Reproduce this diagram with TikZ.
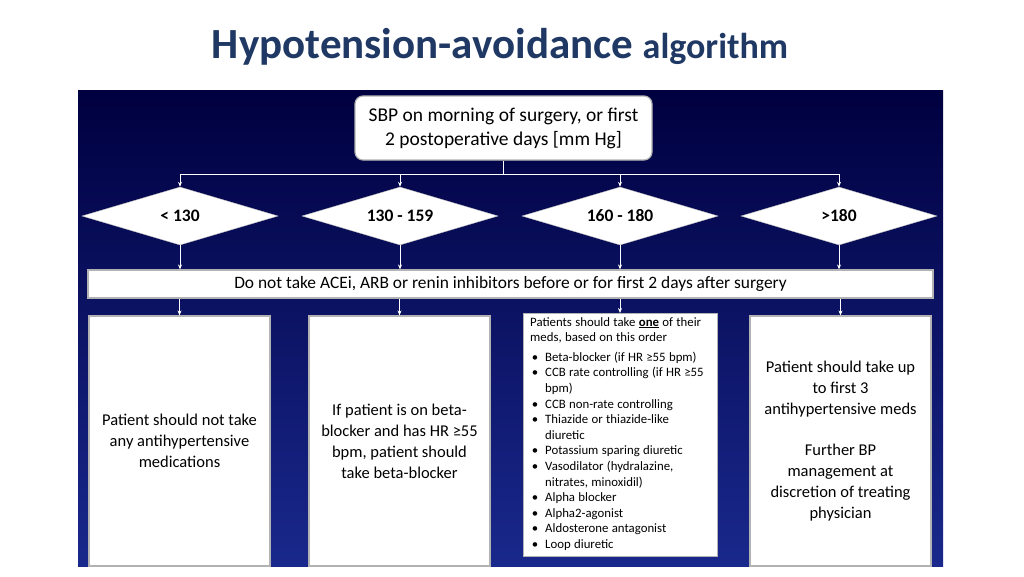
\documentclass[tikz,border=0pt]{standalone}
\usepackage{fontspec}
\setmainfont{Carlito}
\usetikzlibrary{shapes.geometric,arrows.meta}
\definecolor{ttl}{HTML}{1F3864}
\newcommand{\lf}{\fontsize{12.8}{15.6}\selectfont}
\begin{document}
\begin{tikzpicture}[x=1pt,y=-1pt,
  wbox/.style={draw=gray!60,line width=1.2pt,fill=white,align=center,text=black,inner sep=0pt},
  dia/.style={diamond,fill=white,draw=gray!50,aspect=3.4,minimum width=196pt,minimum height=58pt,inner sep=0pt,font=\fontsize{17.5}{20}\selectfont\bfseries},
  arr/.style={white,line width=0.7pt,-{Stealth[length=5pt,width=4pt]}}]
\useasboundingbox (0,0) rectangle (1024,576);
\fill[white] (0,0) rectangle (1024,576);
\node[text=ttl,font=\bfseries] (title) at (500,47) {\fontsize{43}{46}\selectfont Hypotension-avoidance \fontsize{36}{40}\selectfont algorithm};
\shade[top color=blue!25!black, bottom color={rgb,255:red,25;green,40;blue,140}] (78,90) rectangle (943,566);
\node[wbox,rounded corners=8pt,minimum width=297pt,minimum height=64pt,font=\fontsize{19.5}{24}\selectfont] (top) at (503.5,128) {SBP on morning of surgery, or first\\2 postoperative days [mm Hg]};
\node[dia] (d1) at (180,216) {< 130};
\node[dia] (d2) at (400,216) {130 - 159};
\node[dia] (d3) at (620,216) {160 - 180};
\node[dia] (d4) at (839,216) {>180};
\node[wbox,minimum width=845pt,minimum height=28pt,font=\fontsize{17.4}{19}\selectfont] (bar) at (510.5,284) {Do not take ACEi, ARB or renin inhibitors before or for first 2 days after surgery};
\node[wbox,minimum width=181pt,minimum height=250pt,font=\fontsize{16.5}{21}\selectfont] (b1) at (179.5,441) {Patient should not take\\any antihypertensive\\medications};
\node[wbox,minimum width=181pt,minimum height=250pt,font=\fontsize{16.5}{21}\selectfont] (b2) at (399.5,441) {If patient is on beta-\\blocker and has HR ≥55\\bpm, patient should\\take beta-blocker};
\node[wbox,minimum width=194pt,minimum height=243pt,anchor=north west] (b3) at (523,313) {};
\node[anchor=north west,text width=180pt,align=left,inner sep=0pt] (b3t) at (530,317) {\lf Patients should take \textbf{\underline{one}} of their meds, based on this order\\[-4pt]
\begin{list}{\textbullet}{\leftmargin=15pt\labelwidth=8pt\labelsep=7pt\itemsep=0pt\parsep=0pt\topsep=2pt\rightmargin=0pt}\raggedright\lf
\item Beta-blocker (if HR ≥55 bpm)
\item CCB rate controlling (if HR ≥55 bpm)
\item CCB non-rate controlling
\item Thiazide or thiazide-like diuretic
\item Potassium sparing diuretic
\item Vasodilator (hydralazine, nitrates, minoxidil)
\item Alpha blocker
\item Alpha2-agonist
\item Aldosterone antagonist
\item Loop diuretic
\end{list}};
\node[wbox,minimum width=181pt,minimum height=250pt,font=\fontsize{16.5}{21}\selectfont] (b4) at (840.5,441) {Patient should take up\\to first 3\\antihypertensive meds\\[20pt]Further BP\\management at\\discretion of treating\\physician};
\coordinate (hl) at (180,174);
\coordinate (hr) at (839,174);
\draw[white,line width=0.7pt] (hl) -- (hr) (top.south) -- (top.south |- hl);
\foreach \d in {d1,d2,d3,d4}{
  \draw[arr] (\d.north |- hl) -- (\d.north);
  \draw[arr] (\d.south) -- (\d.south |- bar.north);}
\draw[arr] (bar.south -| b1.north) -- (b1.north);
\draw[arr] (bar.south -| b2.north) -- (b2.north);
\draw[arr] (bar.south -| d3.south) -- (b3.north -| d3.south);
\draw[arr] (bar.south -| b4.north) -- (b4.north);
\end{tikzpicture}
\end{document}
